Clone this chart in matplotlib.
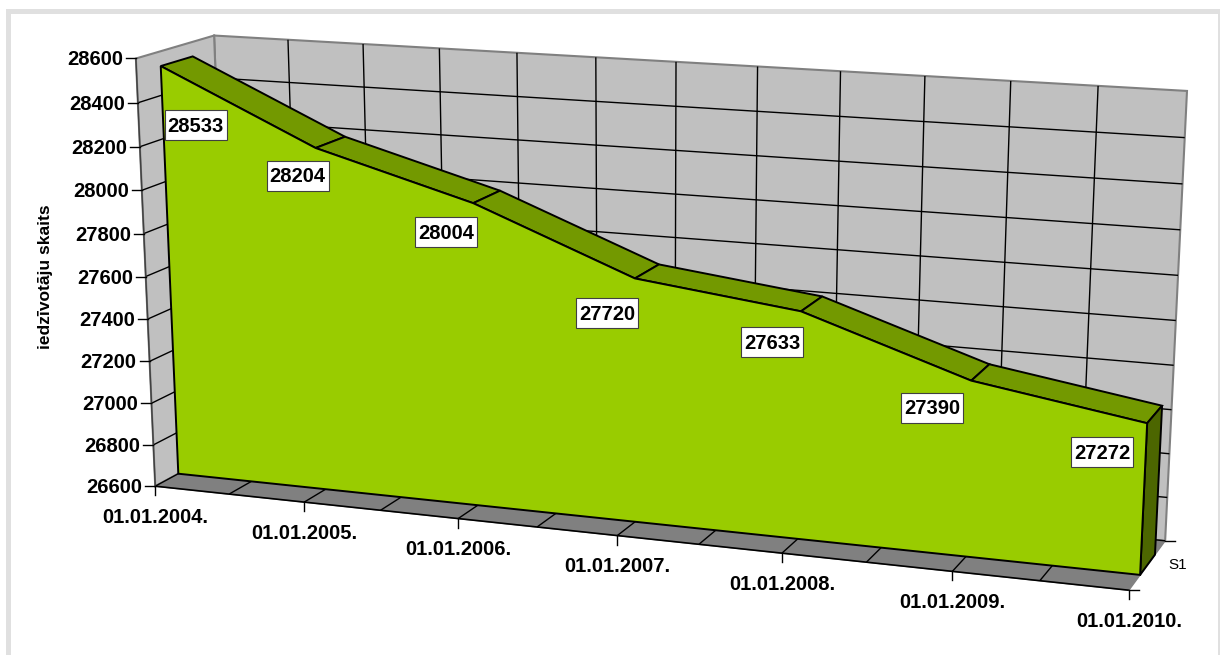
import numpy as np
import matplotlib
matplotlib.use('Agg')
import matplotlib.pyplot as plt
from matplotlib.patches import Polygon, Rectangle

plt.rcParams['font.family'] = ['Liberation Sans', 'DejaVu Sans']

# data
dates = ['01.01.2004.', '01.01.2005.', '01.01.2006.', '01.01.2007.',
         '01.01.2008.', '01.01.2009.', '01.01.2010.']
population = [28533, 28204, 28004, 27720, 27633, 27390, 27272]
y_ticks = list(range(26600, 28601, 200))
y_min, y_max = 26600, 28600
y_title = 'iedzīvotāju skaits'
series_name = 'S1'

# cube corners (date, value, depth) and where they land in the picture
cube = [(0, 0, 0), (0, 1, 0), (0, 1, 1), (1, 1, 1), (1, 0, 1), (1, 0, 0), (0, 0, 1)]
pixels = [(155, 485), (136, 59), (214, 35), (1187, 91), (1165, 540), (1129, 591), (230, 447)]

# gap between the area and the floor edges, in depth units
z_front = 0.30
z_back = 0.71

# value label offsets from the front top point
label_off = [(35, 59), (-18, 28), (-27, 29), (-28, 35), (-29, 31), (-39, 27), (-45, 29)]


def fit_camera(cube, pixels):
    rows = []
    for (X, Y, Z), (u, v) in zip(cube, pixels):
        rows.append([X, Y, Z, 1, 0, 0, 0, 0, -u*X, -u*Y, -u*Z, -u])
        rows.append([0, 0, 0, 0, X, Y, Z, 1, -v*X, -v*Y, -v*Z, -v])
    _, _, vt = np.linalg.svd(np.array(rows, dtype=float))
    return vt[-1].reshape(3, 4)


P = fit_camera(cube, pixels)


def proj(x, val, z):
    # x 0..1 along the dates, val in population units, z 0 front 1 back
    h = P @ np.array([x, (val - y_min) / (y_max - y_min), z, 1.0])
    return h[0] / h[2], h[1] / h[2]


def line3(ax, a, b, **kw):
    p, q = proj(*a), proj(*b)
    ax.plot([p[0], q[0]], [p[1], q[1]], solid_capstyle='butt', **kw)


fig = plt.figure(figsize=(12.2, 6.55), dpi=100)
ax = fig.add_axes([0, 0, 1, 1])
ax.set_xlim(0, 1220)
ax.set_ylim(655, 0)
ax.axis('off')

# page border
band = '#e0e0e0'
ax.add_patch(Rectangle((6, 9), 1214, 5, fc=band, ec='none'))
ax.add_patch(Rectangle((6, 9), 5, 646, fc=band, ec='none'))
ax.add_patch(Rectangle((1218, 9), 2, 646, fc=band, ec='none'))

wall = '#c0c0c0'
edge = '#808080'

# walls and floor
back = [proj(0, y_min, 1), proj(0, y_max, 1), proj(1, y_max, 1), proj(1, y_min, 1)]
left = [proj(0, y_min, 0), proj(0, y_max, 0), proj(0, y_max, 1), proj(0, y_min, 1)]
floor = [proj(0, y_min, 0), proj(1, y_min, 0), proj(1, y_min, 1), proj(0, y_min, 1)]
ax.add_patch(Polygon(back, fc=wall, ec=edge, lw=1.5, zorder=1))
ax.add_patch(Polygon(left, fc=wall, ec=edge, lw=1.5, zorder=1))
ax.add_patch(Polygon(floor, fc=edge, ec=edge, lw=1, zorder=1))

# gridlines
for t in y_ticks[:-1]:
    line3(ax, (0, t, 0), (0, t, 1), color='k', lw=1, zorder=2)
    line3(ax, (0, t, 1), (1, t, 1), color='k', lw=1, zorder=2)
for i in range(1, 12):
    line3(ax, (i/12, y_min, 1), (i/12, y_max, 1), color='k', lw=1, zorder=2)
    line3(ax, (i/12, y_min, 0), (i/12, y_min, 1), color='k', lw=1, zorder=2)
line3(ax, (0, y_min, 0), (1, y_min, 0), color='k', lw=1.2, zorder=2)
line3(ax, (0, y_min, 0), (0, y_max, 0), color='#404040', lw=1, zorder=2)

# area: top strips, right side, front
n = len(population)
xs = [i / (n - 1) for i in range(n)]
for i in range(n - 1):
    strip = [proj(xs[i], population[i], z_front), proj(xs[i+1], population[i+1], z_front),
             proj(xs[i+1], population[i+1], z_back), proj(xs[i], population[i], z_back)]
    ax.add_patch(Polygon(strip, fc='#739900', ec='k', lw=1.4, zorder=3))
side = [proj(1, y_min, z_front), proj(1, population[-1], z_front),
        proj(1, population[-1], z_back), proj(1, y_min, z_back)]
ax.add_patch(Polygon(side, fc='#4c6600', ec='k', lw=1.4, zorder=3))
front = [proj(0, y_min, z_front)]
front += [proj(x, v, z_front) for x, v in zip(xs, population)]
front += [proj(1, y_min, z_front)]
ax.add_patch(Polygon(front, fc='#99cc00', ec='k', lw=1.4, zorder=4))

# y axis
for t in y_ticks:
    px, py = proj(0, t, 0)
    ax.plot([px - 10, px], [py, py], color='k', lw=1, zorder=2)
    ax.text(px - 13, py + 1.5, str(t), ha='right', va='center', fontsize=14.5, fontweight='bold')
ax.text(46, 277, y_title, rotation=90, ha='center', va='center', fontsize=12.5, fontweight='bold')

# x axis
for x, d in zip(xs, dates):
    px, py = proj(x, y_min, 0)
    ax.plot([px, px], [py, py + 9], color='k', lw=1, zorder=2)
    ax.text(px, py + 31, d, ha='center', va='center', fontsize=14.5, fontweight='bold')

# depth axis
for z in [0, 1]:
    px, py = proj(1, y_min, z)
    ax.plot([px, px + 10], [py, py], color='k', lw=1, zorder=2)
ax.text(1178, 565, series_name, ha='center', va='center', fontsize=11)

# value labels
for x, v, off in zip(xs, population, label_off):
    px, py = proj(x, v, z_front)
    cx, cy = px + off[0], py + off[1]
    ax.add_patch(Rectangle((cx - 31, cy - 15), 62, 30, fc='white', ec='#404040', lw=0.8, zorder=5))
    ax.text(cx, cy + 1, str(v), ha='center', va='center', fontsize=14.5, fontweight='bold', zorder=6)

fig.savefig('out.png', dpi=100)
